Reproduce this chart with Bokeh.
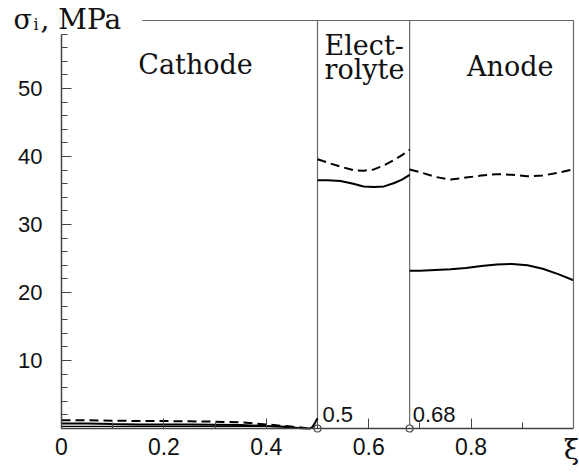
from bokeh.plotting import figure
from bokeh.models import Range1d, FixedTicker, Label, LinearAxis
from bokeh.embed import file_html
from bokeh.resources import INLINE

# ---- data ----
cat_x = [0.0, 0.05, 0.10, 0.15, 0.20, 0.25, 0.30, 0.35, 0.40, 0.43, 0.45, 0.47, 0.485, 0.49, 0.495, 0.50]
cat_solid = [0.75, 0.75, 0.65, 0.6, 0.6, 0.6, 0.55, 0.5, 0.35, 0.25, 0.15, 0.05, 0.0, 0.2, 0.8, 1.5]
cat_dx = [0.0, 0.05, 0.10, 0.15, 0.20, 0.25, 0.30, 0.35, 0.40, 0.43, 0.46, 0.48]
cat_dashed = [1.2, 1.2, 1.15, 1.1, 1.1, 1.05, 1.0, 0.9, 0.6, 0.4, 0.2, 0.05]
cat_lx = [0.0, 0.45]
cat_lower = [0.3, 0.3]

el_x = [0.50, 0.52, 0.545, 0.57, 0.59, 0.61, 0.63, 0.65, 0.665, 0.68]
el_dashed = [39.6, 39.1, 38.5, 38.0, 37.9, 38.1, 38.7, 39.5, 40.2, 41.0]
el_solid = [36.5, 36.5, 36.4, 36.0, 35.6, 35.5, 35.6, 36.1, 36.6, 37.3]

an_x = [0.68, 0.70, 0.73, 0.76, 0.79, 0.82, 0.85, 0.88, 0.91, 0.94, 0.97, 1.0]
an_dashed = [38.1, 37.7, 37.0, 36.6, 36.9, 37.2, 37.4, 37.3, 37.1, 37.2, 37.6, 38.1]
an_solid = [23.2, 23.2, 23.3, 23.4, 23.6, 23.9, 24.1, 24.2, 24.0, 23.5, 22.7, 21.8]

boundaries = [0.5, 0.68]
boundary_labels = ["0.5", "0.68"]
x_major = [0, 0.2, 0.4, 0.6, 0.8]
x_minor = [0.1, 0.3, 0.5, 0.7, 0.9]
y_major = [10, 20, 30, 40, 50]
y_minor = [2, 4, 6, 8, 12, 14, 16, 18, 22, 24, 26, 28, 32, 34, 36, 38, 42, 44, 46, 48, 52, 54, 56, 58]
X_END = 1.0
Y_TOP = 60
Y_AXIS_TOP = 58
TOP_LINE_START = 0.158

SERIF = "DejaVu Serif"
SANS = "Liberation Sans"
FRAME_COLOR = "#666666"
AXIS_COLOR = "#444444"
TEXT_COLOR = "#111111"
LIFT = 8  # px

p = figure(width=579, height=473, x_range=Range1d(-0.1191, 1.0117), y_range=Range1d(-6.62, 62.94),
           output_backend="svg", toolbar_location=None,
           min_border_left=0, min_border_right=0, min_border_top=0, min_border_bottom=0)
p.outline_line_color = None
p.grid.visible = False
p.background_fill_color = "white"
p.border_fill_color = "white"


def style_axis(ax, major_in, minor_in):
    ax.major_tick_in = major_in
    ax.major_tick_out = 0
    ax.minor_tick_in = minor_in
    ax.minor_tick_out = 0
    ax.axis_line_color = AXIS_COLOR
    ax.axis_line_width = 1.5
    ax.major_tick_line_color = AXIS_COLOR
    ax.minor_tick_line_color = AXIS_COLOR
    ax.major_label_text_font = SANS
    ax.major_label_text_font_size = "22px"
    ax.major_label_text_color = TEXT_COLOR


# x axis
xa = p.xaxis[0]
xa.fixed_location = 0
xa.bounds = (0, X_END)
xa.ticker = FixedTicker(ticks=x_major, minor_ticks=x_minor)
style_axis(xa, 10, 6)
xa.major_label_text_font_size = "23px"
xa.major_label_standoff = 10

# y axis
ya = p.yaxis[0]
ya.fixed_location = 0
ya.bounds = (0, Y_AXIS_TOP)
ya.ticker = FixedTicker(ticks=y_major, minor_ticks=y_minor)
style_axis(ya, 10, 6)
ya.major_label_standoff = 19

# right and top frame lines
right = LinearAxis(ticker=FixedTicker(ticks=[]), fixed_location=X_END, bounds=(0, Y_TOP),
                   axis_line_color=FRAME_COLOR, axis_line_width=1.2,
                   major_tick_in=0, major_tick_out=0, minor_tick_in=0, minor_tick_out=0)
p.add_layout(right, "right")
top = LinearAxis(ticker=FixedTicker(ticks=[]), fixed_location=Y_TOP, bounds=(TOP_LINE_START, X_END),
                 axis_line_color=FRAME_COLOR, axis_line_width=1.2,
                 major_tick_in=0, major_tick_out=0, minor_tick_in=0, minor_tick_out=0)
p.add_layout(top, "above")

# boundaries between layers
p.segment(x0=boundaries, y0=[0, 0], x1=boundaries, y1=[Y_TOP, Y_TOP], line_color=FRAME_COLOR, line_width=1.2)

# curves
LW = 2
DASH = "9 5"
p.line(cat_x, cat_solid, line_color="black", line_width=LW)
p.line(cat_lx, cat_lower, line_color="black", line_width=1.2)
p.line(cat_dx, cat_dashed, line_color="black", line_width=LW, line_dash=DASH)
p.line(el_x, el_solid, line_color="black", line_width=LW)
p.line(el_x, el_dashed, line_color="black", line_width=LW, line_dash=DASH)
p.line(an_x, an_solid, line_color="black", line_width=LW)
p.line(an_x, an_dashed, line_color="black", line_width=LW, line_dash=DASH)

p.scatter(boundaries, [0, 0], size=7, fill_color="white", line_color=AXIS_COLOR, line_width=1.2)


# texts
def lab(x, y, t, font, size, align="left", xo=0, yo=0):
    p.add_layout(Label(x=x, y=y, text=t, text_font=font, text_font_size=size, text_align=align,
                       text_baseline="alphabetic", x_offset=xo, y_offset=yo + LIFT, text_color=TEXT_COLOR))


lab(0.150, 52.35, "Cathode", SERIF, "27px")
lab(0.5, 55.15, "Elect-", SERIF, "27px", xo=7)
lab(0.5, 51.6, "rolyte", SERIF, "27px", xo=7)
lab(0.792, 52.1, "Anode", SERIF, "27px")
lab(boundaries[0], 0.93, boundary_labels[0], SANS, "22px", xo=5)
lab(boundaries[1], 0.93, boundary_labels[1], SANS, "22px", xo=3)
lab(X_END, -4.3, "ξ", SERIF, "28px", align="center", xo=-2)
lab(-0.0938, 58.97, "σ", SERIF, "27px")
lab(-0.0938, 58.97, "i", SERIF, "16px", xo=20, yo=-5)
lab(-0.0938, 58.97, ", MPa", SERIF, "28px", xo=27)

open("out.html", "w").write(file_html(p, INLINE))
